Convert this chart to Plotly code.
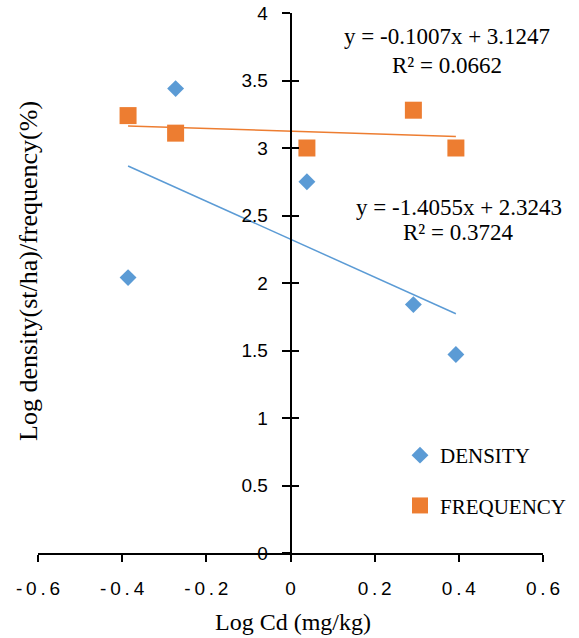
import plotly.graph_objects as go

# Log Cd (mg/kg) at each sampling site
log_cd = [-0.386, -0.273, 0.039, 0.292, 0.393]

# Log density (st/ha) and log frequency (%) per site
density = [2.04, 3.44, 2.75, 1.84, 1.47]
frequency = [3.24, 3.11, 3.00, 3.28, 3.00]

# Linear trendlines: slope, intercept, R²
density_slope, density_intercept, density_r2 = -1.4055, 2.3243, 0.3724
frequency_slope, frequency_intercept, frequency_r2 = -0.1007, 3.1247, 0.0662

x_ticks = [-0.6, -0.4, -0.2, 0, 0.2, 0.4, 0.6]
y_ticks = [0, 0.5, 1, 1.5, 2, 2.5, 3, 3.5, 4]

BLUE = "#5B9BD5"
ORANGE = "#ED7D31"
SERIF = "Liberation Serif, Times New Roman, serif"
SANS = "Liberation Sans, Arial, sans-serif"

THIN = "\u2009"

# plot area in pixels
L, T, W, H = 38, 13, 505, 540


def spaced(v):
    s = "0" if v == 0 else f"{v:g}"
    return THIN.join(s)


def fit_line(slope, intercept, xs):
    x0, x1 = min(xs), max(xs)
    return [x0, x1], [slope * x0 + intercept, slope * x1 + intercept]


def equation(slope, intercept, r2):
    sign = "+" if intercept >= 0 else "-"
    return (f"y = {slope:.4f}x {sign} {abs(intercept):.4f}", f"R² = {r2:.4f}")


def px(x):
    return (x - L) / W


def py(y):
    return 1 - (y - T) / H


fig = go.Figure()

fig.add_trace(go.Scatter(
    x=log_cd, y=density, mode="markers", name="DENSITY",
    legendgroup="d",
    marker=dict(symbol="diamond", size=13, color=BLUE),
))
fig.add_trace(go.Scatter(
    x=log_cd, y=frequency, mode="markers", name="FREQUENCY",
    legendgroup="f",
    marker=dict(symbol="square", size=17, color=ORANGE),
))

dx, dy = fit_line(density_slope, density_intercept, log_cd)
fx, fy = fit_line(frequency_slope, frequency_intercept, log_cd)
fig.add_trace(go.Scatter(x=dx, y=dy, mode="lines", yaxis="y2", showlegend=False,
                         line=dict(color=BLUE, width=1.5), hoverinfo="skip"))
fig.add_trace(go.Scatter(x=fx, y=fy, mode="lines", yaxis="y2", showlegend=False,
                         line=dict(color=ORANGE, width=1.5), hoverinfo="skip"))

# equation labels
f_eq, f_r = equation(frequency_slope, frequency_intercept, frequency_r2)
d_eq, d_r = equation(density_slope, density_intercept, density_r2)
eq_font = dict(family=SERIF, size=23, color="#000")
for text, ax, ay in [(f_eq, 447, 37), (f_r, 447, 65), (d_eq, 459, 207), (d_r, 458, 232)]:
    fig.add_annotation(text=text, xref="paper", yref="paper", x=px(ax), y=py(ay),
                       xanchor="center", yanchor="middle", showarrow=False, font=eq_font)

# axis titles
fig.add_annotation(text="Log Cd (mg/kg)", xref="paper", yref="paper",
                   x=px(293), y=py(622),
                   xanchor="center", yanchor="middle", showarrow=False,
                   font=dict(family=SERIF, size=24, color="#000"))
fig.add_annotation(text="Log density(st/ha)/frequency(%)", xref="paper", yref="paper",
                   x=px(28), y=py(271), textangle=-90,
                   xanchor="center", yanchor="middle", showarrow=False,
                   font=dict(family=SERIF, size=26, color="#000"))

axis_common = dict(showgrid=False, zeroline=False, showline=True,
                   linecolor="#000", linewidth=1.5, tickcolor="#000", tickwidth=1.5)

fig.update_layout(
    width=579, height=638,
    margin=dict(l=L, r=579 - L - W, t=T, b=638 - T - H, autoexpand=False),
    paper_bgcolor="white", plot_bgcolor="white",
    xaxis=dict(range=[-0.6, 0.6], tickvals=x_ticks,
               ticktext=[spaced(v) for v in x_ticks],
               ticks="outside", ticklen=7, ticklabelstandoff=10,
               tickfont=dict(family=SANS, size=19, color="#000"),
               **axis_common),
    yaxis=dict(range=[0, 4], tickvals=y_ticks, anchor="free", position=0.5,
               ticks="outside", ticklen=8, ticklabelstandoff=10,
               tickfont=dict(family=SANS, size=19, color="#000"),
               **axis_common),
    yaxis2=dict(range=[0, 4], tickvals=y_ticks, anchor="free", position=0.5,
                overlaying="y", side="left", ticks="inside", ticklen=8,
                showticklabels=False, **axis_common),
    legend=dict(x=px(400), y=py(435),
                xanchor="left", yanchor="top", tracegroupgap=20,
                bgcolor="rgba(0,0,0,0)",
                font=dict(family=SERIF, size=21, color="#000")),
    showlegend=True,
)

fig.write_html("out.html")
